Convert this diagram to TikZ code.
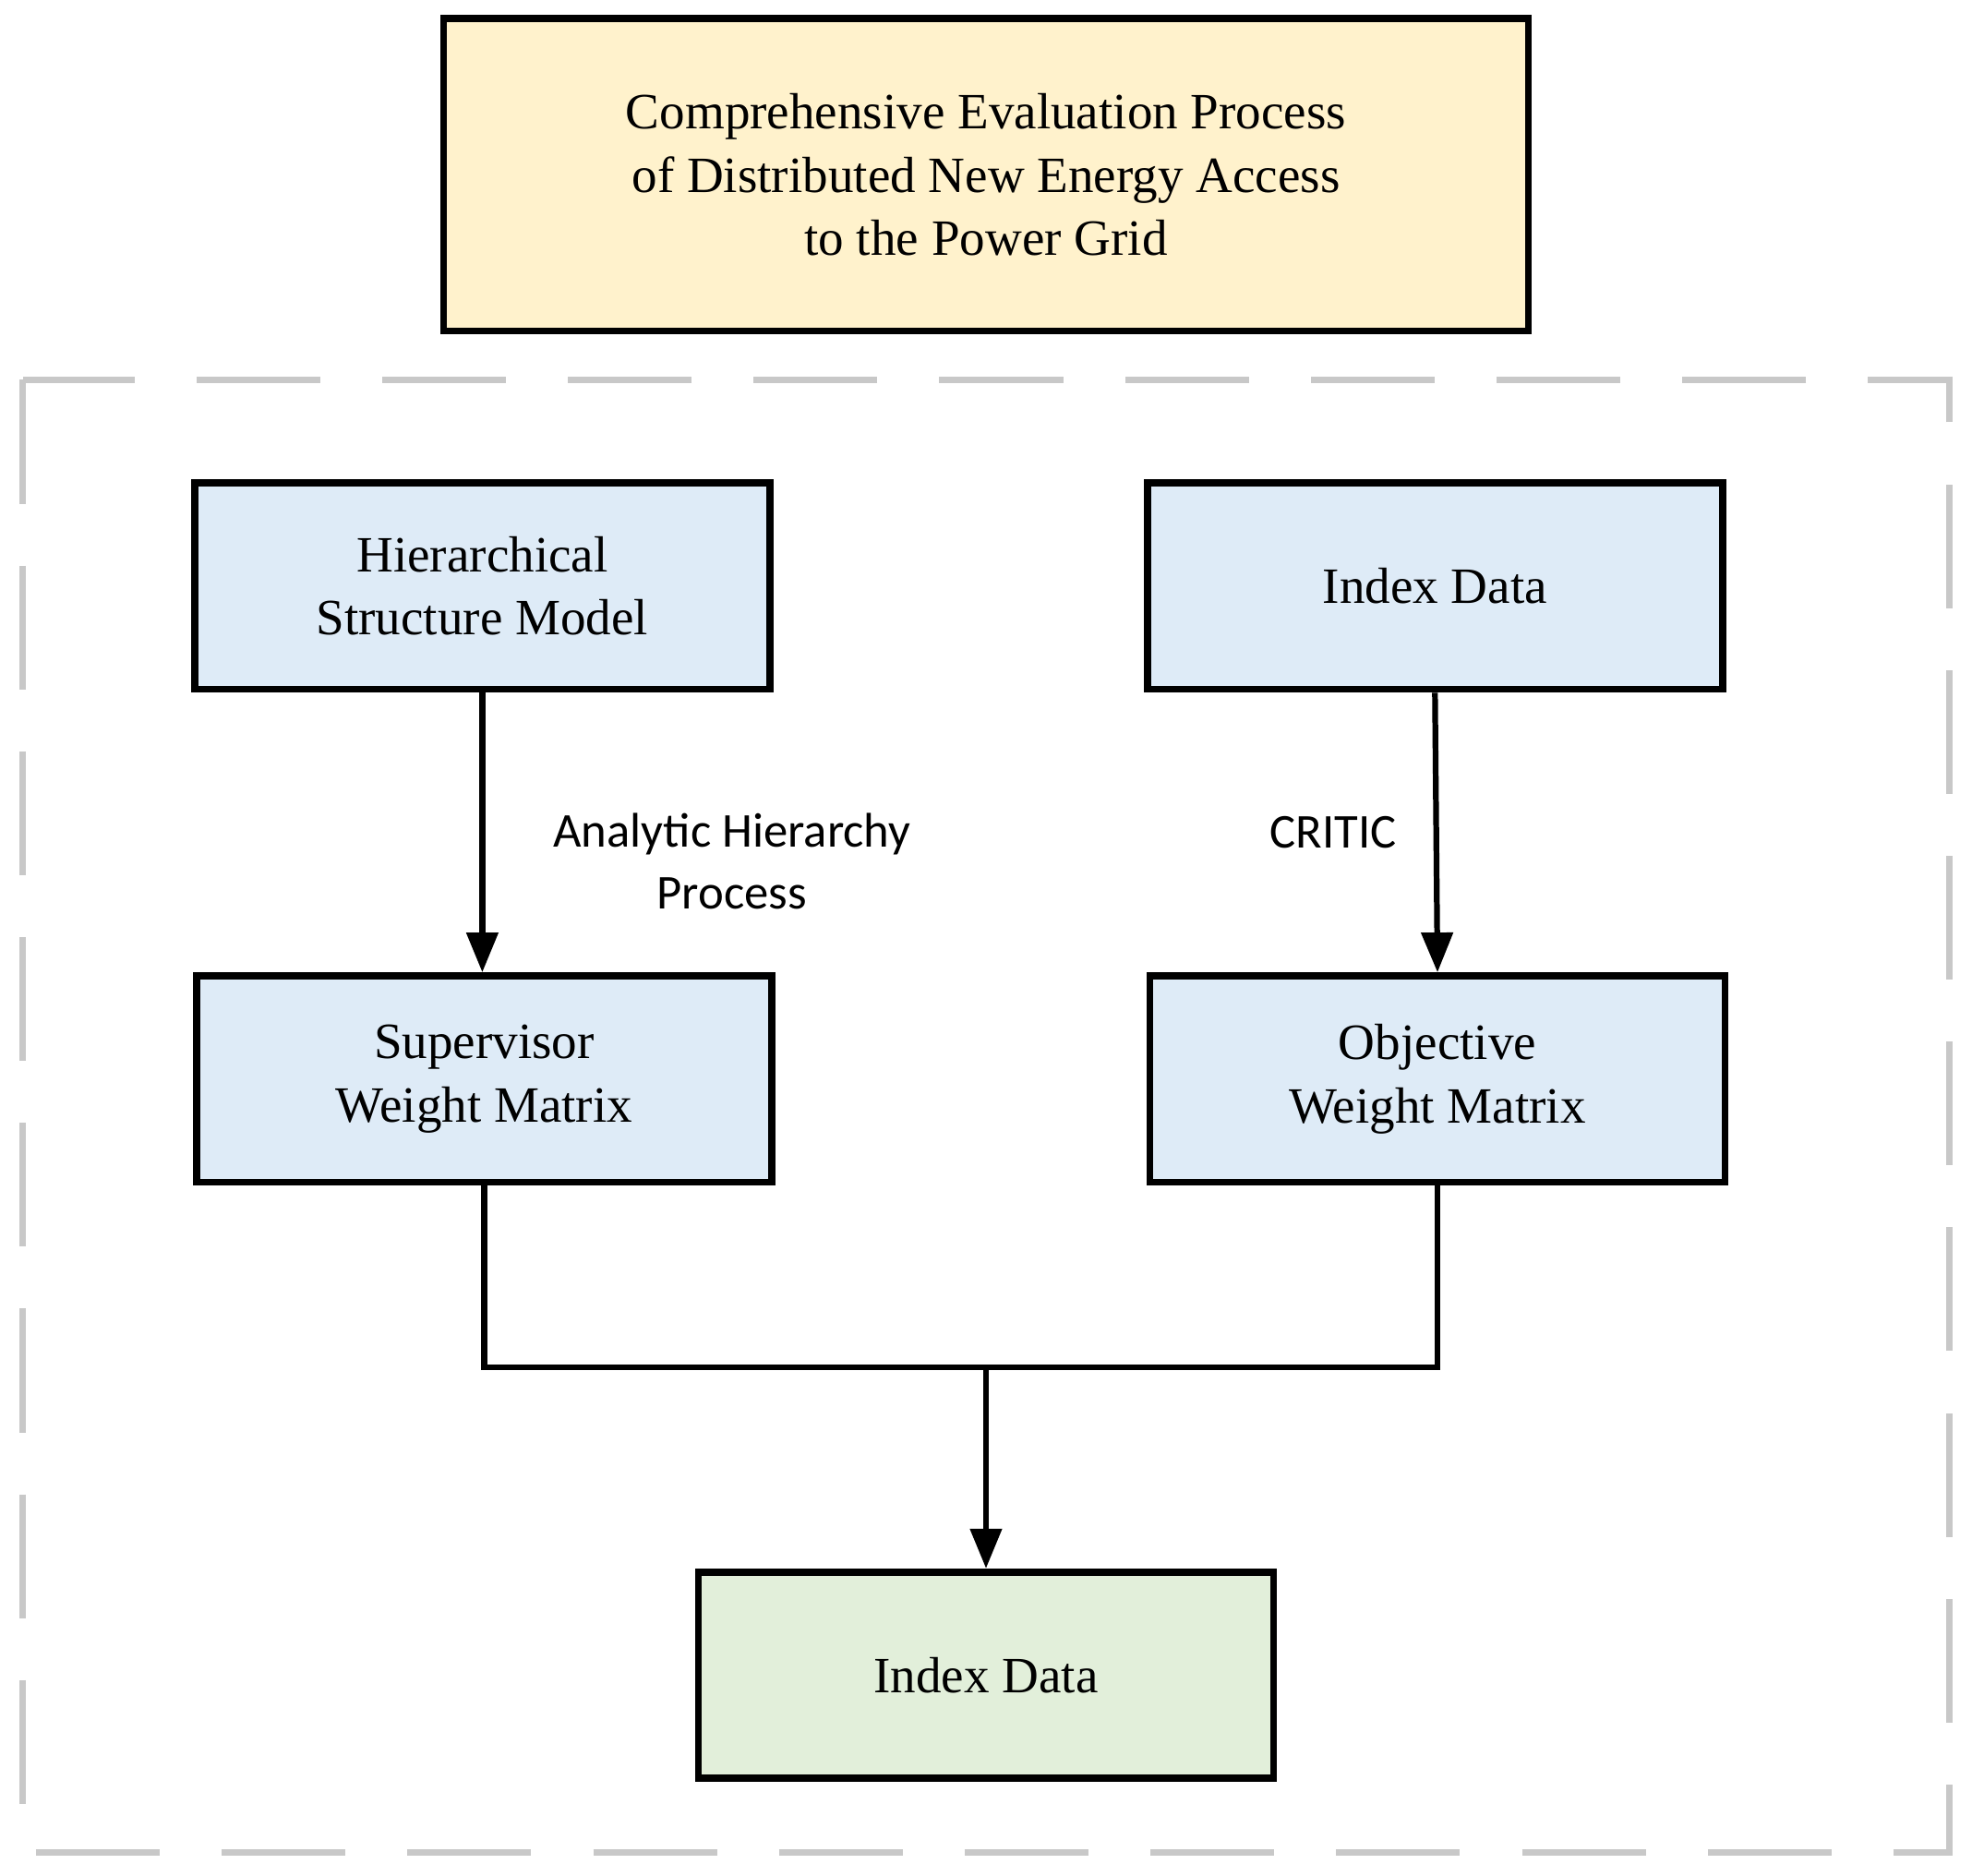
\documentclass[tikz,border=0pt]{standalone}
\usepackage{fontspec}
\setmainfont{Liberation Serif}
\newfontfamily\lblfont{Carlito}
\usetikzlibrary{arrows.meta}
\definecolor{ttl}{HTML}{FFF2CC}
\definecolor{blu}{HTML}{DEEBF7}
\definecolor{grn}{HTML}{E2EFDA}
\definecolor{dgray}{HTML}{C8C8C8}
\begin{document}
\begin{tikzpicture}[x=0.01cm,y=-0.01cm,
  box/.style={draw=black,line width=1.6pt,minimum width=4.57cm,minimum height=1.64cm,align=center,font=\fontsize{11.5}{14.3}\selectfont,inner sep=0pt},
  lbl/.style={align=center,font=\lblfont\fontsize{11}{14}\selectfont},
  arr/.style={line width=1.3pt,-{Triangle[length=9pt,width=7pt]}},
  ln/.style={line width=1.3pt}]
\useasboundingbox (0,0) rectangle (1568,1491);
\draw[dgray,line width=1.3pt,dash pattern=on 28pt off 14pt] (18,302) rectangle (1550,1473);
\node[box,fill=ttl,minimum width=8.62cm,minimum height=2.48cm] (t) at (784,139) {Comprehensive Evaluation Process\\of Distributed New Energy Access\\to the Power Grid};
\node[box,fill=blu] (h) at (383.5,466) {Hierarchical\\Structure Model};
\node[box,fill=blu] (i) at (1141,466) {Index Data};
\node[box,fill=blu] (s) at (385,858) {Supervisor\\Weight Matrix};
\node[box,fill=blu] (o) at (1143,858) {Objective\\Weight Matrix};
\node[box,fill=grn] (b) at (784,1332) {Index Data};
\draw[arr] (h.south) -- (h.south |- s.north);
\draw[arr] (i.south) -- (o.north);
\coordinate (m) at (784,1087);
\draw[ln] (s.south) |- (m) -| (o.south);
\draw[arr] (m) -- (b.north);
\node[lbl] (l1) at (582,685) {Analytic Hierarchy\\Process};
\node[lbl] (l2) at (1060,662) {CRITIC};
\end{tikzpicture}
\end{document}
